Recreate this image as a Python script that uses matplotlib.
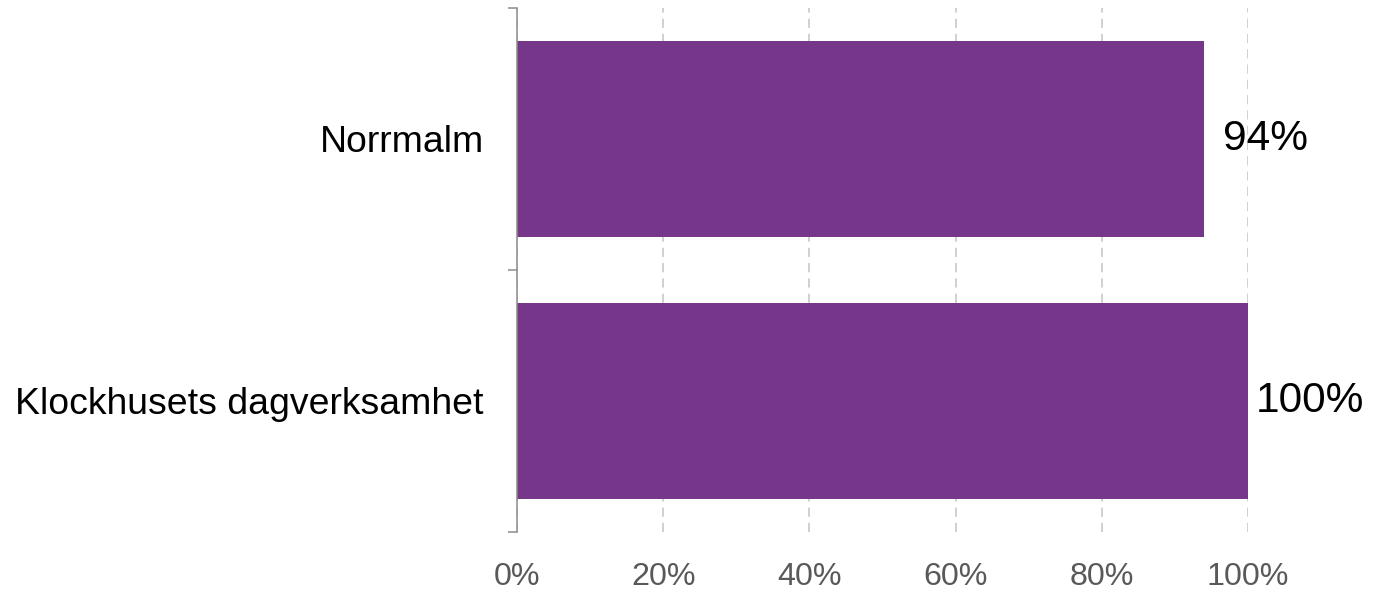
import matplotlib
matplotlib.use("Agg")
import matplotlib.pyplot as plt
from matplotlib.ticker import FixedLocator, PercentFormatter
from matplotlib.transforms import offset_copy

categories = ["Klockhusets dagverksamhet", "Norrmalm"]
values = [100, 94]
xticks = [0, 20, 40, 60, 80, 100]

plt.rcParams['font.family'] = ['Liberation Sans', 'DejaVu Sans']

fig = plt.figure(figsize=(13.89, 5.90), dpi=100)
ax = fig.add_axes([517/1389, 1-532/590, (1248-517)/1389, (532-8)/590])

ypos = list(range(len(categories)))
ax.barh(ypos, values, height=0.745, color="#76368A", zorder=2)

ax.set_xlim(0, 100)
ax.set_ylim(-0.5, len(categories) - 0.5)
ax.set_xticks(xticks)
ax.xaxis.set_major_formatter(PercentFormatter(decimals=0))
ax.set_yticks(ypos)
ax.set_yticklabels(categories)
ax.yaxis.set_minor_locator(FixedLocator([-0.5, 0.5, 1.5]))

ax.tick_params(axis='x', length=0, labelsize=23.2, labelcolor="#595959", pad=21.5)
ax.tick_params(axis='y', which='major', length=0, labelsize=26.9, labelcolor="black", pad=24)
ax.tick_params(axis='y', which='minor', length=6.5, width=1.1, color="#8c8c8c")

for s in ["top", "right", "bottom"]:
    ax.spines[s].set_visible(False)
ax.spines["left"].set_color("#8c8c8c")
ax.spines["left"].set_linewidth(1.1)

ax.grid(axis='x', color="#c4c4c4", linestyle=(0, (6, 4)), linewidth=1.1, zorder=0)
ax.set_axisbelow(True)

for y, v in zip(ypos, values):
    tr = offset_copy(ax.transData, fig=fig, x=44.5, y=0, units='points')
    ax.text(v, y, f"{v}%", transform=tr, ha='center', va='center',
            fontsize=30.5, color="black", clip_on=False, zorder=3)

fig.savefig("out.png", dpi=100)
